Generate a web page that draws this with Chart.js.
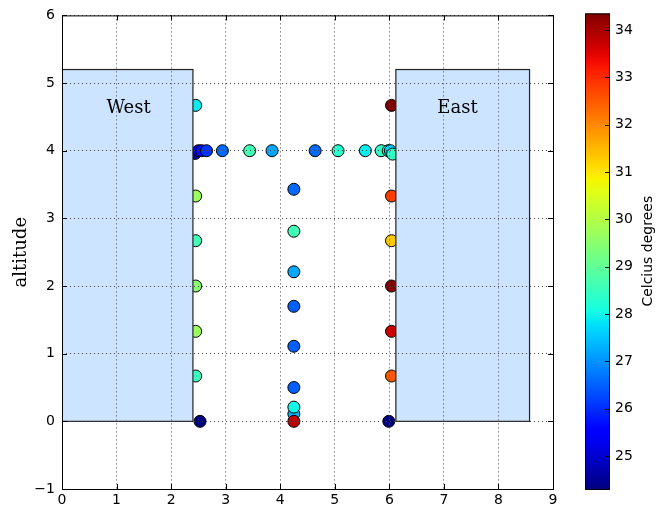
<!DOCTYPE html>
<html>
<head>
<meta charset="utf-8">
<script src="https://cdn.jsdelivr.net/npm/chart.js@4/dist/chart.umd.min.js"></script>
<style>
  body { margin: 0; background: #fff; }
  #wrap { position: relative; width: 657px; height: 510px; }
  #main { position: absolute; left: 0; top: 0; }
  #bar { position: absolute; left: 575px; top: 0; }
</style>
</head>
<body>
<div id="wrap">
  <canvas id="main" width="575" height="510"></canvas>
  <canvas id="bar" width="82" height="510"></canvas>
</div>
<script>
// sensor positions (x, altitude) and temperature
var pointX = [2.45, 2.45, 2.45, 2.45, 2.45, 2.45, 2.53,
  2.44, 2.50, 2.56, 2.65, 2.94, 3.44, 3.85, 4.64, 5.06, 5.56, 5.85, 5.98, 6.02, 6.06,
  4.25, 4.25, 4.25, 4.25, 4.25, 4.25, 4.25, 4.25, 4.25,
  6.04, 6.04, 6.04, 6.04, 6.04, 6.04, 5.99]
var pointY = [4.67, 3.33, 2.67, 2.0, 1.33, 0.67, 0,
  3.96, 4, 4, 4, 4, 4, 4, 4, 4, 4, 4, 4, 4, 3.95,
  3.43, 2.81, 2.21, 1.70, 1.11, 0.50, 0.11, 0.21, 0,
  4.67, 3.33, 2.67, 2.0, 1.33, 0.67, 0]
var pointTemp = [27.9, 29.7, 28.6, 29.5, 29.7, 28.5, 24.3,
  24.6, 25.2, 25.7, 26.1, 26.6, 28.6, 27.2, 26.6, 28.3, 27.9, 28.4, 27.9, 27.6, 28.4,
  26.6, 28.6, 27.2, 26.5, 26.5, 26.5, 27.3, 28.0, 33.8,
  34.35, 32.8, 31.3, 34.3, 33.7, 32.5, 24.3]

// buildings
var boxNames = ["West", "East"]
var boxLeft = [0, 6.12]
var boxRight = [2.4, 8.57]
var boxTop = [5.2, 5.2]
var boxLabelX = [1.22, 7.25]
var boxLabelY = [4.62, 4.62]

var xTicks = [0, 1, 2, 3, 4, 5, 6, 7, 8, 9]
var yTicks = [-1, 0, 1, 2, 3, 4, 5, 6]
var cbTicks = [25, 26, 27, 28, 29, 30, 31, 32, 33, 34]

var tMin = Math.min.apply(null, pointTemp)
var tMax = Math.max.apply(null, pointTemp)

// matplotlib jet colormap
var jetR = [[0, 0], [0.35, 0], [0.66, 1], [0.89, 1], [1, 0.5]]
var jetG = [[0, 0], [0.125, 0], [0.375, 1], [0.64, 1], [0.91, 0], [1, 0]]
var jetB = [[0, 0.5], [0.11, 1], [0.34, 1], [0.65, 0], [1, 0]]

function interp(pts, t) {
  for (var i = 1; i < pts.length; i++) {
    if (t <= pts[i][0]) {
      var a = pts[i - 1], b = pts[i]
      return a[1] + (b[1] - a[1]) * (t - a[0]) / (b[0] - a[0])
    }
  }
  return pts[pts.length - 1][1]
}

function jet(t) {
  t = Math.max(0, Math.min(1, t))
  return "rgb(" + Math.round(interp(jetR, t) * 255) + "," +
    Math.round(interp(jetG, t) * 255) + "," +
    Math.round(interp(jetB, t) * 255) + ")"
}

function tempColor(v) {
  return jet((v - tMin) / (tMax - tMin))
}

Chart.defaults.font.family = "'DejaVu Sans', sans-serif"
Chart.defaults.color = "#000"

function getPoints() {
  var pts = []
  for (var i = 0; i < pointX.length; i++) {
    pts.push({x: pointX[i], y: pointY[i]})
  }
  return pts
}

function innerTicks(ctx, area, scales) {
  ctx.save()
  ctx.strokeStyle = "#000"
  ctx.lineWidth = 1
  ctx.beginPath()
  xTicks.forEach(function(v) {
    var px = Math.round(scales.x.getPixelForValue(v)) + 0.5
    ctx.moveTo(px, area.bottom); ctx.lineTo(px, area.bottom - 5)
    ctx.moveTo(px, area.top); ctx.lineTo(px, area.top + 5)
  })
  yTicks.forEach(function(v) {
    var py = Math.round(scales.y.getPixelForValue(v)) + 0.5
    ctx.moveTo(area.left, py); ctx.lineTo(area.left + 5, py)
    ctx.moveTo(area.right, py); ctx.lineTo(area.right - 5, py)
  })
  ctx.stroke()
  ctx.restore()
}

var buildings = {
  id: "buildings",
  afterDatasetsDraw: function(chart) {
    var ctx = chart.ctx
    var x = chart.scales.x, y = chart.scales.y
    ctx.save()
    ctx.beginPath()
    ctx.rect(chart.chartArea.left, chart.chartArea.top, chart.chartArea.width, chart.chartArea.height)
    ctx.clip()
    for (var i = 0; i < boxNames.length; i++) {
      var l = x.getPixelForValue(boxLeft[i])
      var r = x.getPixelForValue(boxRight[i])
      var t = y.getPixelForValue(boxTop[i])
      var b = y.getPixelForValue(0)
      ctx.fillStyle = "#cce4ff"
      ctx.fillRect(l, t, r - l, b - t)
      ctx.strokeStyle = "#222"
      ctx.lineWidth = 1.2
      ctx.strokeRect(l, t, r - l, b - t)
    }
    ctx.restore()
  },
  afterDraw: function(chart) {
    var ctx = chart.ctx
    var area = chart.chartArea
    ctx.save()
    ctx.fillStyle = "#000"
    ctx.font = "18px 'DejaVu Serif', serif"
    ctx.textAlign = "center"
    ctx.textBaseline = "middle"
    for (var i = 0; i < boxNames.length; i++) {
      ctx.fillText(boxNames[i], chart.scales.x.getPixelForValue(boxLabelX[i]), chart.scales.y.getPixelForValue(boxLabelY[i]))
    }
    ctx.strokeStyle = "#000"
    ctx.lineWidth = 1
    ctx.strokeRect(area.left + 0.5, area.top + 0.5, area.width, area.height)
    ctx.restore()
    innerTicks(ctx, area, chart.scales)
  }
}

function renderMain() {
  var colors = pointTemp.map(tempColor)
  new Chart(document.getElementById("main"), {
    type: "scatter",
    data: {
      datasets: [{
        data: getPoints(),
        pointRadius: 6,
        pointHoverRadius: 6,
        pointBackgroundColor: colors,
        pointBorderColor: "#000",
        pointBorderWidth: 1
      }]
    },
    options: {
      responsive: false,
      animation: false,
      events: [],
      layout: {padding: {top: 12, right: 22, left: 0, bottom: 0}},
      plugins: {legend: {display: false}, tooltip: {enabled: false}},
      scales: {
        x: {
          type: "linear",
          min: 0,
          max: 9,
          afterBuildTicks: function(s) { s.ticks = xTicks.map(function(v) { return {value: v} }) },
          afterFit: function(s) { s.height = 21 },
          ticks: {font: {size: 14}, padding: 3, maxRotation: 0},
          grid: {color: "#444", drawTicks: false, z: 1},
          border: {display: false, dash: [1, 3]}
        },
        y: {
          type: "linear",
          min: -1,
          max: 6,
          afterBuildTicks: function(s) { s.ticks = yTicks.map(function(v) { return {value: v} }) },
          afterFit: function(s) { s.width = 62 },
          ticks: {
            font: {size: 14},
            padding: 7,
            callback: function(v) { return String(v).replace("-", "\u2212") }
          },
          grid: {color: "#444", drawTicks: false, z: 1},
          border: {display: false, dash: [1, 3]},
          title: {
            display: true,
            text: "altitude",
            font: {family: "'DejaVu Serif', serif", size: 18},
            padding: {top: 11, bottom: 0}
          }
        }
      }
    },
    plugins: [buildings]
  })
}

var barDecor = {
  id: "barDecor",
  afterDraw: function(chart) {
    var ctx = chart.ctx
    var area = chart.chartArea
    var y = chart.scales.y
    ctx.save()
    ctx.strokeStyle = "#000"
    ctx.lineWidth = 1
    ctx.beginPath()
    cbTicks.forEach(function(v) {
      var py = Math.round(y.getPixelForValue(v)) + 0.5
      ctx.moveTo(area.right, py); ctx.lineTo(area.right - 5, py)
    })
    ctx.stroke()
    ctx.strokeRect(area.left + 0.5, area.top + 0.5, area.width - 1, area.height)
    ctx.fillStyle = "#000"
    ctx.font = "14px 'DejaVu Sans', sans-serif"
    ctx.textAlign = "center"
    ctx.textBaseline = "middle"
    ctx.translate(73, (area.top + area.bottom) / 2)
    ctx.rotate(-Math.PI / 2)
    ctx.fillText("Celcius degrees", 0, 0)
    ctx.restore()
  }
}

function renderColorbar() {
  new Chart(document.getElementById("bar"), {
    type: "bar",
    data: {
      labels: ["T"],
      datasets: [{
        data: [[tMin, tMax]],
        backgroundColor: function(c) {
          var area = c.chart.chartArea
          if (!area) return "#fff"
          var g = c.chart.ctx.createLinearGradient(0, area.bottom, 0, area.top)
          for (var k = 0; k <= 40; k++) {
            g.addColorStop(k / 40, jet(k / 40))
          }
          return g
        },
        borderWidth: 0,
        barPercentage: 1,
        categoryPercentage: 1
      }]
    },
    options: {
      responsive: false,
      animation: false,
      events: [],
      layout: {padding: {top: 11, right: 0, left: 10, bottom: 21}},
      plugins: {legend: {display: false}, tooltip: {enabled: false}},
      scales: {
        x: {display: false},
        y: {
          position: "right",
          min: tMin,
          max: tMax,
          afterBuildTicks: function(s) { s.ticks = cbTicks.map(function(v) { return {value: v} }) },
          afterFit: function(s) { s.width = 47 },
          ticks: {font: {size: 14}, padding: 5},
          grid: {display: false, drawTicks: false},
          border: {display: false}
        }
      }
    },
    plugins: [barDecor]
  })
}

renderMain()
renderColorbar()
</script>
</body>
</html>
